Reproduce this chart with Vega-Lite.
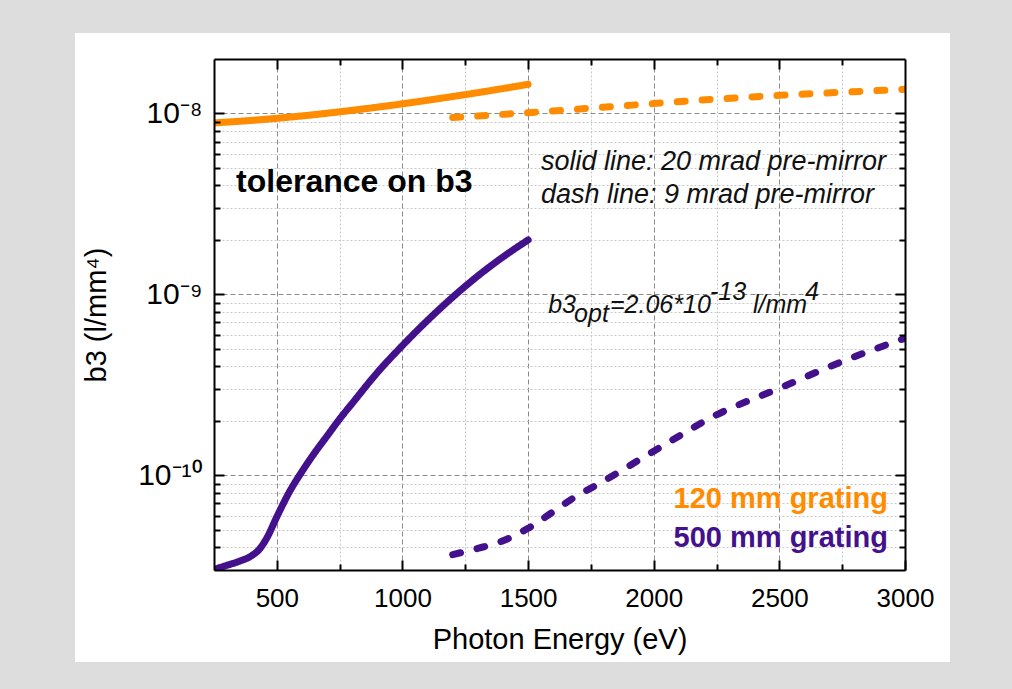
{
  "$schema": "https://vega.github.io/schema/vega-lite/v6.json",
  "width": 691,
  "height": 511,
  "autosize": {"type": "none"},
  "padding": {"left": 214, "top": 59, "right": 107, "bottom": 119},
  "background": "#dddddd",
  "config": {"view": {"stroke": null, "fill": "white"}, "font": "Liberation Sans"},
  "datasets": {
    "curves": [
      {"E": 250, "b3": 8.87e-9, "grating": "120 mm grating", "mirror": "20 mrad", "series": "o20"},
      {"E": 375, "b3": 9.1e-9, "grating": "120 mm grating", "mirror": "20 mrad", "series": "o20"},
      {"E": 500, "b3": 9.4e-9, "grating": "120 mm grating", "mirror": "20 mrad", "series": "o20"},
      {"E": 625, "b3": 9.77e-9, "grating": "120 mm grating", "mirror": "20 mrad", "series": "o20"},
      {"E": 750, "b3": 1.021e-8, "grating": "120 mm grating", "mirror": "20 mrad", "series": "o20"},
      {"E": 875, "b3": 1.072e-8, "grating": "120 mm grating", "mirror": "20 mrad", "series": "o20"},
      {"E": 1000, "b3": 1.13e-8, "grating": "120 mm grating", "mirror": "20 mrad", "series": "o20"},
      {"E": 1125, "b3": 1.197e-8, "grating": "120 mm grating", "mirror": "20 mrad", "series": "o20"},
      {"E": 1250, "b3": 1.271e-8, "grating": "120 mm grating", "mirror": "20 mrad", "series": "o20"},
      {"E": 1375, "b3": 1.355e-8, "grating": "120 mm grating", "mirror": "20 mrad", "series": "o20"},
      {"E": 1500, "b3": 1.449e-8, "grating": "120 mm grating", "mirror": "20 mrad", "series": "o20"},
      {"E": 1200, "b3": 9.5e-9, "grating": "120 mm grating", "mirror": "9 mrad", "series": "o9"},
      {"E": 1500, "b3": 1.01e-8, "grating": "120 mm grating", "mirror": "9 mrad", "series": "o9"},
      {"E": 1750, "b3": 1.07e-8, "grating": "120 mm grating", "mirror": "9 mrad", "series": "o9"},
      {"E": 2000, "b3": 1.135e-8, "grating": "120 mm grating", "mirror": "9 mrad", "series": "o9"},
      {"E": 2250, "b3": 1.2e-8, "grating": "120 mm grating", "mirror": "9 mrad", "series": "o9"},
      {"E": 2500, "b3": 1.26e-8, "grating": "120 mm grating", "mirror": "9 mrad", "series": "o9"},
      {"E": 2750, "b3": 1.31e-8, "grating": "120 mm grating", "mirror": "9 mrad", "series": "o9"},
      {"E": 3000, "b3": 1.36e-8, "grating": "120 mm grating", "mirror": "9 mrad", "series": "o9"},
      {"E": 250, "b3": 3.02e-11, "grating": "500 mm grating", "mirror": "20 mrad", "series": "p20"},
      {"E": 300, "b3": 3.18e-11, "grating": "500 mm grating", "mirror": "20 mrad", "series": "p20"},
      {"E": 350, "b3": 3.35e-11, "grating": "500 mm grating", "mirror": "20 mrad", "series": "p20"},
      {"E": 400, "b3": 3.6e-11, "grating": "500 mm grating", "mirror": "20 mrad", "series": "p20"},
      {"E": 430, "b3": 3.9e-11, "grating": "500 mm grating", "mirror": "20 mrad", "series": "p20"},
      {"E": 460, "b3": 4.5e-11, "grating": "500 mm grating", "mirror": "20 mrad", "series": "p20"},
      {"E": 500, "b3": 5.9e-11, "grating": "500 mm grating", "mirror": "20 mrad", "series": "p20"},
      {"E": 550, "b3": 8.1e-11, "grating": "500 mm grating", "mirror": "20 mrad", "series": "p20"},
      {"E": 600, "b3": 1.05e-10, "grating": "500 mm grating", "mirror": "20 mrad", "series": "p20"},
      {"E": 650, "b3": 1.33e-10, "grating": "500 mm grating", "mirror": "20 mrad", "series": "p20"},
      {"E": 700, "b3": 1.65e-10, "grating": "500 mm grating", "mirror": "20 mrad", "series": "p20"},
      {"E": 750, "b3": 2.05e-10, "grating": "500 mm grating", "mirror": "20 mrad", "series": "p20"},
      {"E": 800, "b3": 2.5e-10, "grating": "500 mm grating", "mirror": "20 mrad", "series": "p20"},
      {"E": 900, "b3": 3.7e-10, "grating": "500 mm grating", "mirror": "20 mrad", "series": "p20"},
      {"E": 1000, "b3": 5.22e-10, "grating": "500 mm grating", "mirror": "20 mrad", "series": "p20"},
      {"E": 1100, "b3": 7.19e-10, "grating": "500 mm grating", "mirror": "20 mrad", "series": "p20"},
      {"E": 1200, "b3": 9.66e-10, "grating": "500 mm grating", "mirror": "20 mrad", "series": "p20"},
      {"E": 1300, "b3": 1.265e-9, "grating": "500 mm grating", "mirror": "20 mrad", "series": "p20"},
      {"E": 1400, "b3": 1.61e-9, "grating": "500 mm grating", "mirror": "20 mrad", "series": "p20"},
      {"E": 1500, "b3": 2.0e-9, "grating": "500 mm grating", "mirror": "20 mrad", "series": "p20"},
      {"E": 1200, "b3": 3.65e-11, "grating": "500 mm grating", "mirror": "9 mrad", "series": "p9"},
      {"E": 1300, "b3": 3.95e-11, "grating": "500 mm grating", "mirror": "9 mrad", "series": "p9"},
      {"E": 1400, "b3": 4.35e-11, "grating": "500 mm grating", "mirror": "9 mrad", "series": "p9"},
      {"E": 1500, "b3": 5.1e-11, "grating": "500 mm grating", "mirror": "9 mrad", "series": "p9"},
      {"E": 1600, "b3": 6.3e-11, "grating": "500 mm grating", "mirror": "9 mrad", "series": "p9"},
      {"E": 1700, "b3": 7.8e-11, "grating": "500 mm grating", "mirror": "9 mrad", "series": "p9"},
      {"E": 1750, "b3": 8.5e-11, "grating": "500 mm grating", "mirror": "9 mrad", "series": "p9"},
      {"E": 2000, "b3": 1.36e-10, "grating": "500 mm grating", "mirror": "9 mrad", "series": "p9"},
      {"E": 2250, "b3": 2.16e-10, "grating": "500 mm grating", "mirror": "9 mrad", "series": "p9"},
      {"E": 2500, "b3": 3.03e-10, "grating": "500 mm grating", "mirror": "9 mrad", "series": "p9"},
      {"E": 2750, "b3": 4.26e-10, "grating": "500 mm grating", "mirror": "9 mrad", "series": "p9"},
      {"E": 3000, "b3": 5.73e-10, "grating": "500 mm grating", "mirror": "9 mrad", "series": "p9"}
    ],
    "notes": [
      {"text": "tolerance on b3", "E": 338, "b3": 3.68e-9, "kind": "title"},
      {"text": "solid line: 20 mrad pre-mirror", "E": 1551, "b3": 4.87e-9, "kind": "italicL"},
      {"text": "dash line: 9 mrad pre-mirror", "E": 1551, "b3": 3.2e-9, "kind": "italicL"},
      {"text": "b3", "E": 1580, "b3": 7.86e-10, "kind": "italicS"},
      {"text": "opt", "E": 1683, "b3": 7.07e-10, "kind": "italicS"},
      {"text": "=2.06*10", "E": 1826, "b3": 7.86e-10, "kind": "italicS"},
      {"text": "-13", "E": 2224, "b3": 9.31e-10, "kind": "italicS"},
      {"text": "l/mm", "E": 2395, "b3": 7.86e-10, "kind": "italicS"},
      {"text": "4", "E": 2602, "b3": 9.31e-10, "kind": "italicS"},
      {"text": "120 mm grating", "E": 2932, "b3": 6.58e-11, "kind": "legend", "grating": "120 mm grating"},
      {"text": "500 mm grating", "E": 2932, "b3": 4.03e-11, "kind": "legend", "grating": "500 mm grating"}
    ]
  },
  "layer": [
    {
      "data": {"values": [{}]},
      "mark": {"type": "rect", "color": "white", "stroke": null},
      "encoding": {
        "x": {"datum": -303, "type": "quantitative", "scale": {"type": "linear", "domain": [250, 3000], "nice": false, "zero": false}, "axis": null},
        "x2": {"datum": 250},
        "y": {"datum": 9.3e-12, "type": "quantitative", "scale": {"type": "log", "domain": [3e-11, 2e-8], "nice": false}, "axis": null},
        "y2": {"datum": 2.784e-8}
      }
    },
    {
      "data": {"values": [{}]},
      "mark": {"type": "rect", "color": "white", "stroke": null},
      "encoding": {
        "x": {"datum": 3000, "type": "quantitative", "scale": {"type": "linear", "domain": [250, 3000], "nice": false, "zero": false}, "axis": null},
        "x2": {"datum": 3179},
        "y": {"datum": 9.3e-12, "type": "quantitative", "scale": {"type": "log", "domain": [3e-11, 2e-8], "nice": false}, "axis": null},
        "y2": {"datum": 2.784e-8}
      }
    },
    {
      "data": {"values": [{}]},
      "mark": {"type": "rect", "color": "white", "stroke": null},
      "encoding": {
        "x": {"datum": 250, "type": "quantitative", "scale": {"type": "linear", "domain": [250, 3000], "nice": false, "zero": false}, "axis": null},
        "x2": {"datum": 3000},
        "y": {"datum": 2e-8, "type": "quantitative", "scale": {"type": "log", "domain": [3e-11, 2e-8], "nice": false}, "axis": null},
        "y2": {"datum": 2.784e-8}
      }
    },
    {
      "data": {"values": [{}]},
      "mark": {"type": "rect", "color": "white", "stroke": null},
      "encoding": {
        "x": {"datum": 250, "type": "quantitative", "scale": {"type": "linear", "domain": [250, 3000], "nice": false, "zero": false}, "axis": null},
        "x2": {"datum": 3000},
        "y": {"datum": 9.3e-12, "type": "quantitative", "scale": {"type": "log", "domain": [3e-11, 2e-8], "nice": false}, "axis": null},
        "y2": {"datum": 3e-11}
      }
    },
    {
      "data": {"name": "curves"},
      "mark": {"type": "line", "strokeWidth": 7, "strokeCap": "round", "interpolate": "monotone", "clip": true},
      "encoding": {
        "x": {"field": "E", "type": "quantitative", "scale": {"type": "linear", "domain": [250, 3000], "nice": false, "zero": false},
          "axis": {"orient": "bottom", "values": [500, 750, 1000, 1250, 1500, 1750, 2000, 2250, 2500, 2750], "grid": true,
            "gridColor": {"condition": {"test": "datum.value % 500 === 0", "value": "#8a8a8a"}, "value": "#c8c8c8"},
            "gridDash": {"condition": {"test": "datum.value % 500 === 0", "value": [5, 3]}, "value": [2, 2]},
            "gridWidth": 1, "labels": false, "ticks": false, "domain": false, "title": null, "zindex": 0, "minExtent": 0, "maxExtent": 0}},
        "y": {"field": "b3", "type": "quantitative", "scale": {"type": "log", "domain": [3e-11, 2e-8], "nice": false},
          "axis": {"orient": "left", "values": [4e-11, 5e-11, 6e-11, 7e-11, 8e-11, 9e-11, 1e-10, 2e-10, 3e-10, 4e-10, 5e-10, 6e-10, 7e-10, 8e-10, 9e-10, 1e-9, 2e-9, 3e-9, 4e-9, 5e-9, 6e-9, 7e-9, 8e-9, 9e-9, 1e-8], "grid": true,
            "gridColor": {"condition": {"test": "abs(log(datum.value)/LN10 - round(log(datum.value)/LN10)) < 0.01", "value": "#8a8a8a"}, "value": "#c8c8c8"},
            "gridDash": {"condition": {"test": "abs(log(datum.value)/LN10 - round(log(datum.value)/LN10)) < 0.01", "value": [5, 3]}, "value": [2, 2]},
            "gridWidth": 1, "labels": false, "ticks": false, "domain": false, "title": null, "zindex": 0, "minExtent": 0, "maxExtent": 0}},
        "color": {"field": "grating", "type": "nominal", "scale": {"domain": ["120 mm grating", "500 mm grating"], "range": ["#ff8c00", "#44118c"]}, "legend": null},
        "strokeDash": {"field": "mirror", "type": "nominal", "scale": {"domain": ["20 mrad", "9 mrad"], "range": [[1, 0], [8, 17]]}, "legend": null},
        "detail": {"field": "series"}
      }
    },
    {
      "data": {"name": "notes"},
      "transform": [{"filter": "datum.kind === 'title'"}],
      "mark": {"type": "text", "align": "left", "baseline": "alphabetic", "fontSize": 32, "fontWeight": "bold", "color": "black"},
      "encoding": {
        "x": {"field": "E", "type": "quantitative", "scale": {"type": "linear", "domain": [250, 3000], "nice": false, "zero": false},
          "axis": {"orient": "bottom", "values": [500, 750, 1000, 1250, 1500, 1750, 2000, 2250, 2500, 2750, 3000], "grid": false,
            "domain": true, "domainColor": "black", "domainWidth": 2, "ticks": true, "tickColor": "black", "tickWidth": 2,
            "tickSize": {"condition": {"test": "datum.value % 500 === 0", "value": -10}, "value": -6},
            "labelExpr": "datum.value % 500 === 0 ? '' + datum.value : ''", "labelFontSize": 26, "labelColor": "black", "labelPadding": 25,
            "labelFlush": false, "labelOverlap": false, "labelBound": false,
            "title": "Photon Energy (eV)", "titleFontSize": 29, "titleFontWeight": "normal", "titleColor": "black", "titlePadding": 10, "zindex": 1}},
        "y": {"field": "b3", "type": "quantitative", "scale": {"type": "log", "domain": [3e-11, 2e-8], "nice": false},
          "axis": {"orient": "left", "values": [4e-11, 5e-11, 6e-11, 7e-11, 8e-11, 9e-11, 1e-10, 2e-10, 3e-10, 4e-10, 5e-10, 6e-10, 7e-10, 8e-10, 9e-10, 1e-9, 2e-9, 3e-9, 4e-9, 5e-9, 6e-9, 7e-9, 8e-9, 9e-9, 1e-8], "grid": false,
            "domain": true, "domainColor": "black", "domainWidth": 2, "ticks": true, "tickColor": "black", "tickWidth": 2,
            "tickSize": {"condition": {"test": "abs(log(datum.value)/LN10 - round(log(datum.value)/LN10)) < 0.01", "value": -10}, "value": -6},
            "labelExpr": "abs(log(datum.value)/LN10 - round(log(datum.value)/LN10)) < 0.01 ? (round(log(datum.value)/LN10) == -8 ? '10⁻⁸' : round(log(datum.value)/LN10) == -9 ? '10⁻⁹' : '10⁻¹⁰') : ''",
            "labelFontSize": 30, "labelColor": "black", "labelPadding": 22, "labelOverlap": false, "labelBound": false, "labelFlush": false,
            "title": "b3 (l/mm⁴)", "titleFontSize": 29, "titleFontWeight": "normal", "titleColor": "black", "titlePadding": 26, "zindex": 1}},
        "text": {"field": "text"}
      }
    },
    {
      "data": {"name": "notes"},
      "transform": [{"filter": "datum.kind === 'italicL'"}],
      "mark": {"type": "text", "align": "left", "baseline": "alphabetic", "fontSize": 27, "fontStyle": "italic", "color": "#111111"},
      "encoding": {
        "x": {"field": "E", "type": "quantitative", "scale": {"type": "linear", "domain": [250, 3000], "nice": false, "zero": false},
          "axis": {"orient": "top", "values": [500, 750, 1000, 1250, 1500, 1750, 2000, 2250, 2500, 2750], "grid": false,
            "domain": true, "domainColor": "black", "domainWidth": 2, "ticks": true, "tickColor": "black", "tickWidth": 2,
            "tickSize": {"condition": {"test": "datum.value % 500 === 0", "value": -10}, "value": -6},
            "labels": false, "title": null, "zindex": 1}},
        "y": {"field": "b3", "type": "quantitative", "scale": {"type": "log", "domain": [3e-11, 2e-8], "nice": false},
          "axis": {"orient": "right", "values": [4e-11, 5e-11, 6e-11, 7e-11, 8e-11, 9e-11, 1e-10, 2e-10, 3e-10, 4e-10, 5e-10, 6e-10, 7e-10, 8e-10, 9e-10, 1e-9, 2e-9, 3e-9, 4e-9, 5e-9, 6e-9, 7e-9, 8e-9, 9e-9, 1e-8], "grid": false,
            "domain": true, "domainColor": "black", "domainWidth": 2, "ticks": true, "tickColor": "black", "tickWidth": 2,
            "tickSize": {"condition": {"test": "abs(log(datum.value)/LN10 - round(log(datum.value)/LN10)) < 0.01", "value": -10}, "value": -6},
            "labels": false, "title": null, "zindex": 1}},
        "text": {"field": "text"}
      }
    },
    {
      "data": {"name": "notes"},
      "transform": [{"filter": "datum.kind === 'italicS'"}],
      "mark": {"type": "text", "align": "left", "baseline": "alphabetic", "fontSize": 25, "fontStyle": "italic", "color": "#111111"},
      "encoding": {
        "x": {"field": "E", "type": "quantitative", "scale": {"type": "linear", "domain": [250, 3000], "nice": false, "zero": false}, "axis": null},
        "y": {"field": "b3", "type": "quantitative", "scale": {"type": "log", "domain": [3e-11, 2e-8], "nice": false}, "axis": null},
        "text": {"field": "text"}
      }
    },
    {
      "data": {"name": "notes"},
      "transform": [{"filter": "datum.kind === 'legend'"}],
      "mark": {"type": "text", "align": "right", "baseline": "alphabetic", "fontSize": 29, "fontWeight": "bold"},
      "encoding": {
        "x": {"field": "E", "type": "quantitative", "scale": {"type": "linear", "domain": [250, 3000], "nice": false, "zero": false}, "axis": null},
        "y": {"field": "b3", "type": "quantitative", "scale": {"type": "log", "domain": [3e-11, 2e-8], "nice": false}, "axis": null},
        "color": {"field": "grating", "type": "nominal", "scale": {"domain": ["120 mm grating", "500 mm grating"], "range": ["#ff8c00", "#44118c"]}, "legend": null},
        "text": {"field": "text"}
      }
    }
  ],
  "resolve": {"axis": {"x": "independent", "y": "independent"}}
}
